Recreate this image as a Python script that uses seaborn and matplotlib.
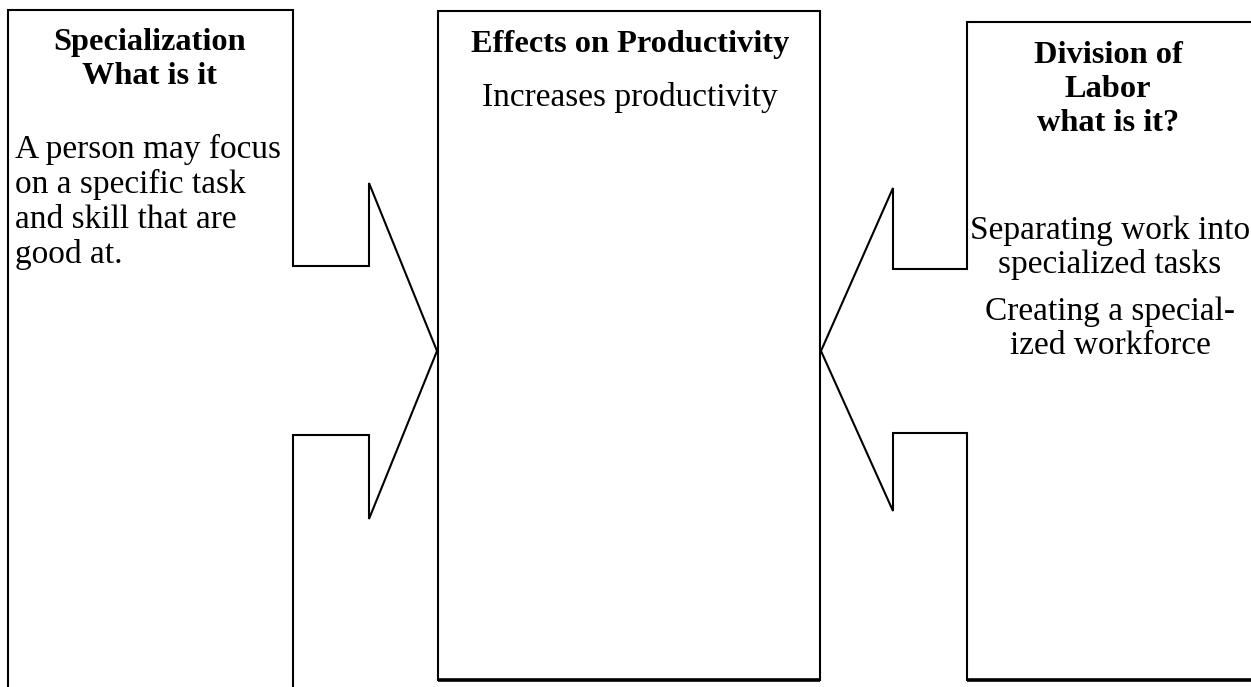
import matplotlib
matplotlib.use("Agg")
import matplotlib.pyplot as plt
import seaborn as sns

# outline of the three boxes, in pixels (y grows downward)
left_x = [8, 8, 293, 293, 369, 369, 437, 369, 369, 293, 293]
left_y = [700, 10, 10, 266, 266, 183, 351, 519, 435, 435, 700]

mid_x = [438, 820, 820, 438, 438]
mid_y = [11, 11, 680, 680, 11]

right_x = [1260, 967, 967, 893, 893, 821, 893, 893, 967, 967, 1260]
right_y = [22, 22, 269, 269, 188, 351, 511, 433, 433, 680, 680]

# texts
left_head = ["Specialization", "What is it"]
left_body = ["A person may focus", "on a specific task", "and skill that are", "good at."]
mid_head = ["Effects on Productivity"]
mid_body = ["Increases productivity"]
right_head = ["Division of", "Labor", "what is it?"]
right_body1 = ["Separating work into", "specialized tasks"]
right_body2 = ["Creating a special-", "ized workforce"]

sns.set_theme(style="white")
plt.rcParams['font.family'] = ['Liberation Serif', 'DejaVu Serif']

fig = plt.figure(figsize=(12.51, 6.87), dpi=100)
ax = fig.add_axes([0, 0, 1, 1])
ax.set_xlim(0, 1251)
ax.set_ylim(687, 0)
ax.axis('off')

ax.plot(left_x, left_y, color='black', lw=1.5, solid_joinstyle='miter')
ax.plot(mid_x, mid_y, color='black', lw=1.5, solid_joinstyle='miter')
ax.plot(right_x, right_y, color='black', lw=1.5, solid_joinstyle='miter')
# bottom edges look heavier (shadow)
ax.plot(mid_x[2:4], mid_y[2:4], color='black', lw=2.6, solid_capstyle='butt')
ax.plot(right_x[-2:], right_y[-2:], color='black', lw=2.6, solid_capstyle='butt')

def draw_lines(lines, x, y0, ha, bold, step=35):
    for i, t in enumerate(lines):
        ax.text(x, y0 + i * step, t, ha=ha, va='baseline',
                fontsize=23.3 if bold else 24,
                fontweight='bold' if bold else 'normal', color='black')

draw_lines(left_head, 150, 50, 'center', True, step=34)
draw_lines(left_body, 15, 158, 'left', False)
draw_lines(mid_head, 630, 52, 'center', True)
draw_lines(mid_body, 630, 106, 'center', False)
draw_lines(right_head, 1108, 63, 'center', True, step=34)
draw_lines(right_body1, 1110, 239, 'center', False, step=34)
draw_lines(right_body2, 1110, 320, 'center', False, step=34)

fig.savefig("out.png", dpi=100)
